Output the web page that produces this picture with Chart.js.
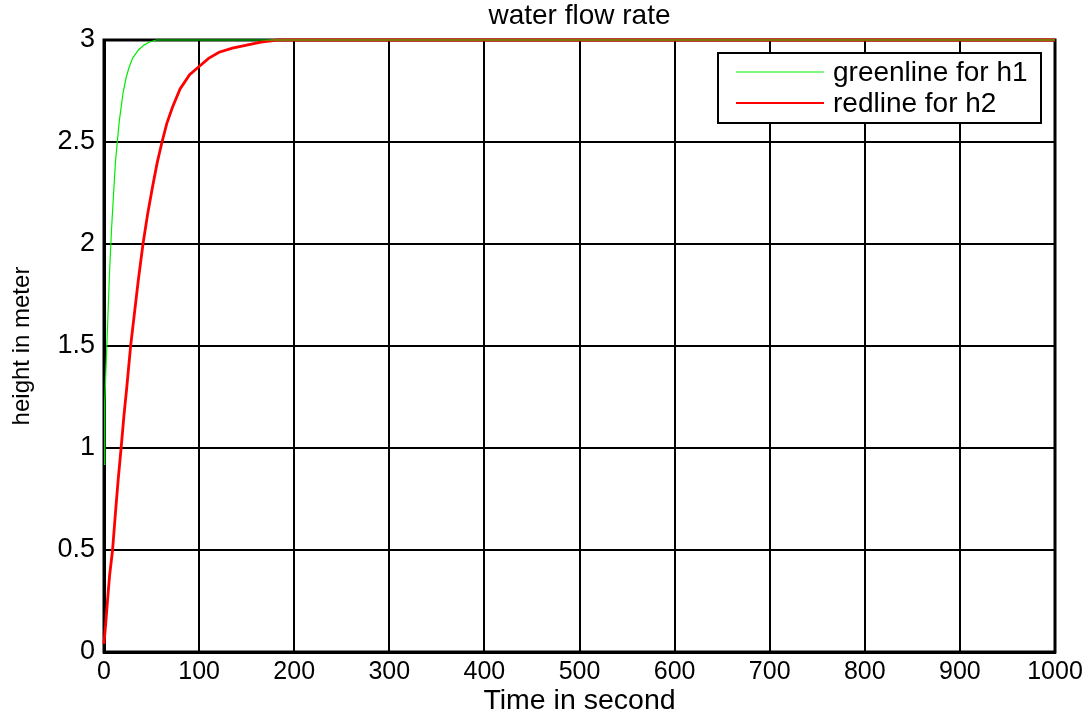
<!DOCTYPE html>
<html>
<head>
<meta charset="utf-8">
<script src="https://cdn.jsdelivr.net/npm/chart.js@4.4.0/dist/chart.umd.min.js"></script>
<style>
  html, body { margin: 0; padding: 0; background: #fff; }
  #wrap { width: 1089px; height: 718px; }
</style>
</head>
<body>
<div id="wrap"><canvas id="chart" width="1089" height="718"></canvas></div>
<script>
// 데이터
const h1Time = [0, 0.5, 1, 2, 3, 4, 5, 6, 7, 8, 10, 12, 14, 16, 18, 20, 23, 26, 30, 36, 42, 48, 55, 1000];
const h1Height = [0.92, 1.1, 1.22, 1.38, 1.5, 1.63, 1.76, 1.88, 1.98, 2.08, 2.24, 2.4, 2.5, 2.6, 2.67, 2.74, 2.81, 2.86, 2.91, 2.95, 2.975, 2.99, 3.0, 3.0];
const h2Time = [0, 2, 4, 6, 9, 12, 15, 18, 21, 24, 28, 32, 36, 41, 46, 51, 56, 61, 66, 72, 80, 90, 100, 110, 121, 135, 150, 165, 182, 1000];
const h2Height = [0.04, 0.15, 0.27, 0.38, 0.5, 0.68, 0.85, 1.0, 1.16, 1.3, 1.5, 1.66, 1.82, 2.0, 2.15, 2.28, 2.4, 2.5, 2.59, 2.67, 2.76, 2.83, 2.87, 2.91, 2.94, 2.96, 2.975, 2.99, 3.0, 3.0];
const seriesLabels = ['greenline for h1', 'redline for h2'];
const chartTitle = 'water flow rate';
const xTicks = [0, 100, 200, 300, 400, 500, 600, 700, 800, 900, 1000];
const yTicks = [0, 0.5, 1, 1.5, 2, 2.5, 3];

const FONT = "'Liberation Sans', Arial, sans-serif";

function toPoints(xs, ys) {
    return xs.map((x, i) => ({ x: x, y: ys[i] }));
}

// 플롯 테두리 + 제목 (차트 영역 기준 가운데)
const boxPlugin = {
    id: 'box',
    beforeDatasetsDraw(chart) {
        const { ctx, chartArea: a } = chart;
        ctx.save();
        ctx.strokeStyle = '#000';
        ctx.lineWidth = 3;
        ctx.strokeRect(a.left, a.top, a.right - a.left, a.bottom - a.top);
        ctx.fillStyle = '#000';
        ctx.font = '28px ' + FONT;
        ctx.textAlign = 'center';
        ctx.textBaseline = 'middle';
        ctx.fillText(chartTitle, (a.left + a.right) / 2, 16);
        ctx.restore();
    }
};

// 범례 (플롯 안쪽 오른쪽 위)
const legendBoxPlugin = {
    id: 'legendBox',
    afterDatasetsDraw(chart) {
        const { ctx } = chart;
        const x0 = 718, y0 = 53, w = 323, h = 70;
        ctx.save();
        ctx.fillStyle = '#fff';
        ctx.fillRect(x0, y0, w, h);
        ctx.strokeStyle = '#000';
        ctx.lineWidth = 2;
        ctx.strokeRect(x0, y0, w, h);
        ctx.font = '28px ' + FONT;
        ctx.textBaseline = 'middle';
        chart.data.datasets.forEach((ds, i) => {
            const y = y0 + 19 + i * 31;
            ctx.strokeStyle = ds.borderColor;
            ctx.lineWidth = i === 0 ? 1.2 : 2;
            ctx.beginPath();
            ctx.moveTo(736, y);
            ctx.lineTo(824, y);
            ctx.stroke();
            ctx.fillStyle = '#000';
            ctx.fillText(ds.label, 833, y + 1);
        });
        ctx.restore();
    }
};

new Chart(document.getElementById('chart'), {
    type: 'line',
    data: {
        datasets: [
            {
                label: seriesLabels[0],
                data: toPoints(h1Time, h1Height),
                borderColor: '#00ee00',
                borderWidth: 1.2,
                pointRadius: 0,
                tension: 0,
                clip: false
            },
            {
                label: seriesLabels[1],
                data: toPoints(h2Time, h2Height),
                borderColor: '#ff0000',
                borderWidth: 2.8,
                pointRadius: 0,
                tension: 0,
                clip: false
            }
        ]
    },
    options: {
        responsive: false,
        animation: false,
        layout: { padding: { left: 0, right: 34, top: 40, bottom: 0 } },
        plugins: {
            legend: { display: false },
            tooltip: { enabled: false },
            title: { display: false }
        },
        scales: {
            x: {
                type: 'linear',
                min: 0,
                max: 1000,
                afterBuildTicks: s => { s.ticks = xTicks.map(v => ({ value: v })); },
                afterFit: s => { s.height = 66; },
                ticks: {
                    color: '#000',
                    font: { family: FONT, size: 25 },
                    padding: 5,
                    maxRotation: 0,
                    callback: v => String(v)
                },
                grid: { color: '#000', lineWidth: 2, drawTicks: false },
                border: { color: '#000', width: 3 },
                title: {
                    display: true,
                    text: 'Time in second',
                    color: '#000',
                    font: { family: FONT, size: 28.5 },
                    padding: { top: 0, bottom: 0 }
                }
            },
            y: {
                type: 'linear',
                min: 0,
                max: 3,
                afterBuildTicks: s => { s.ticks = yTicks.map(v => ({ value: v })); },
                afterFit: s => { s.width = 104; },
                ticks: {
                    color: '#000',
                    font: { family: FONT, size: 27 },
                    padding: 9,
                    callback: v => String(v)
                },
                grid: { color: '#000', lineWidth: 2, drawTicks: false },
                border: { color: '#000', width: 3 },
                title: {
                    display: true,
                    text: 'height in meter',
                    color: '#000',
                    font: { family: FONT, size: 24 },
                    padding: { top: 8, bottom: 0 }
                }
            }
        }
    },
    plugins: [boxPlugin, legendBoxPlugin]
});
</script>
</body>
</html>
